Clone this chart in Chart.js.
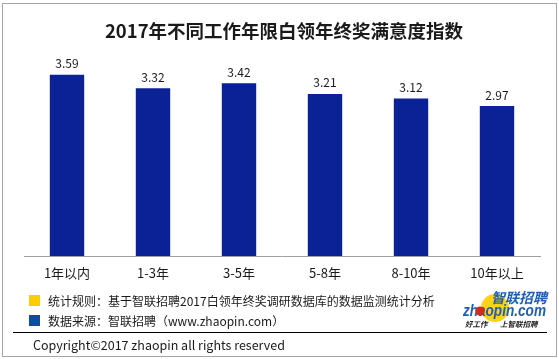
<!DOCTYPE html>
<html>
<head>
<meta charset="utf-8">
<script src="https://cdn.jsdelivr.net/npm/chart.js@4/dist/chart.umd.min.js"></script>
<style>
  html, body { margin: 0; padding: 0; background: #fff; }
  #wrap { width: 559px; height: 359px; }
</style>
</head>
<body>
<div id="wrap"><canvas id="c" width="559" height="359"></canvas></div>
<script>
// 数据
const categories = ['1年以内', '1-3年', '3-5年', '5-8年', '8-10年', '10年以上'];
const satisfaction = [3.59, 3.32, 3.42, 3.21, 3.12, 2.97];

const titleText = '2017年不同工作年限白领年终奖满意度指数';
const noteRule = '统计规则：基于智联招聘2017白领年终奖调研数据库的数据监测统计分析';
const noteSource = '数据来源：智联招聘（www.zhaopin.com）';
const copyright = 'Copyright©2017 zhaopin all rights reserved';

const FONT = '"Noto Sans CJK SC", "Noto Sans", sans-serif';

// 边框、标题、注释、logo
const decorPlugin = {
    id: 'decor',
    afterDraw(chart) {
        const ctx = chart.ctx;
        ctx.save();
        // 外框
        ctx.strokeStyle = '#a6a6a6';
        ctx.lineWidth = 1;
        ctx.strokeRect(2.5, 3.5, 554, 353);

        // 标题
        ctx.fillStyle = '#1a1a1a';
        ctx.font = 'bold 18.5px ' + FONT;
        ctx.textAlign = 'center';
        ctx.textBaseline = 'middle';
        ctx.fillText(titleText, 284, 31);

        // 注释
        ctx.textAlign = 'left';
        ctx.font = '12px ' + FONT;
        ctx.fillStyle = '#ffcc00';
        ctx.fillRect(29, 295, 11, 11);
        ctx.fillStyle = '#0b4ea2';
        ctx.fillRect(29, 315, 11, 11);
        ctx.fillStyle = '#1a1a1a';
        ctx.fillText(noteRule, 48, 301);
        ctx.fillText(noteSource, 48, 321);

        // 分隔线
        ctx.strokeStyle = '#000';
        ctx.beginPath();
        ctx.moveTo(13, 332.5);
        ctx.lineTo(547, 332.5);
        ctx.stroke();

        ctx.font = '12.5px ' + FONT;
        ctx.fillText(copyright, 33, 345);

        // logo
        ctx.fillStyle = '#ffd21a';
        ctx.beginPath();
        ctx.arc(495, 308, 14, 0, Math.PI * 2);
        ctx.fill();
        ctx.fillStyle = '#1e5fb4';
        ctx.font = 'italic bold 14px ' + FONT;
        ctx.textAlign = 'right';
        ctx.fillText('智联招聘', 547, 298);
        ctx.save();
        ctx.translate(546, 311);
        ctx.scale(0.8, 1);
        ctx.font = 'italic bold 17px "Liberation Sans", sans-serif';
        ctx.fillText('zhaopin.com', 0, 0);
        ctx.restore();
        ctx.fillStyle = '#d42a1a';
        ctx.beginPath();
        ctx.arc(480, 311, 4.5, 0, Math.PI * 2);
        ctx.fill();
        ctx.fillStyle = '#222';
        ctx.font = 'italic bold 7.5px ' + FONT;
        ctx.textAlign = 'left';
        ctx.fillText('好工作', 465, 324);
        ctx.fillText('上智联招聘', 500, 324);
        ctx.restore();
    }
};

// 柱顶数值
const valueLabels = {
    id: 'valueLabels',
    afterDatasetsDraw(chart) {
        const ctx = chart.ctx;
        const meta = chart.getDatasetMeta(0);
        ctx.save();
        ctx.fillStyle = '#1a1a1a';
        ctx.font = '12px ' + FONT;
        ctx.textAlign = 'center';
        ctx.textBaseline = 'bottom';
        meta.data.forEach((bar, i) => {
            ctx.fillText(satisfaction[i].toFixed(2), bar.x, bar.y - 5);
        });
        ctx.restore();
    }
};

new Chart(document.getElementById('c'), {
    type: 'bar',
    data: {
        labels: categories,
        datasets: [{
            data: satisfaction,
            backgroundColor: '#0a2296',
            barPercentage: 0.4,
            categoryPercentage: 1.0
        }]
    },
    options: {
        responsive: false,
        animation: false,
        layout: { padding: { left: 24, right: 19, top: 54, bottom: 73 } },
        plugins: {
            legend: { display: false },
            title: { display: false },
            tooltip: { enabled: false }
        },
        scales: {
            x: {
                grid: { display: false, drawTicks: false },
                border: { display: true, color: '#a0a0a0' },
                ticks: { color: '#1a1a1a', font: { family: FONT, size: 13 }, padding: 9 },
                afterFit(scale) { scale.height = 30; }
            },
            y: {
                display: false,
                min: 0,
                max: 4
            }
        }
    },
    plugins: [valueLabels, decorPlugin]
});
</script>
</body>
</html>
